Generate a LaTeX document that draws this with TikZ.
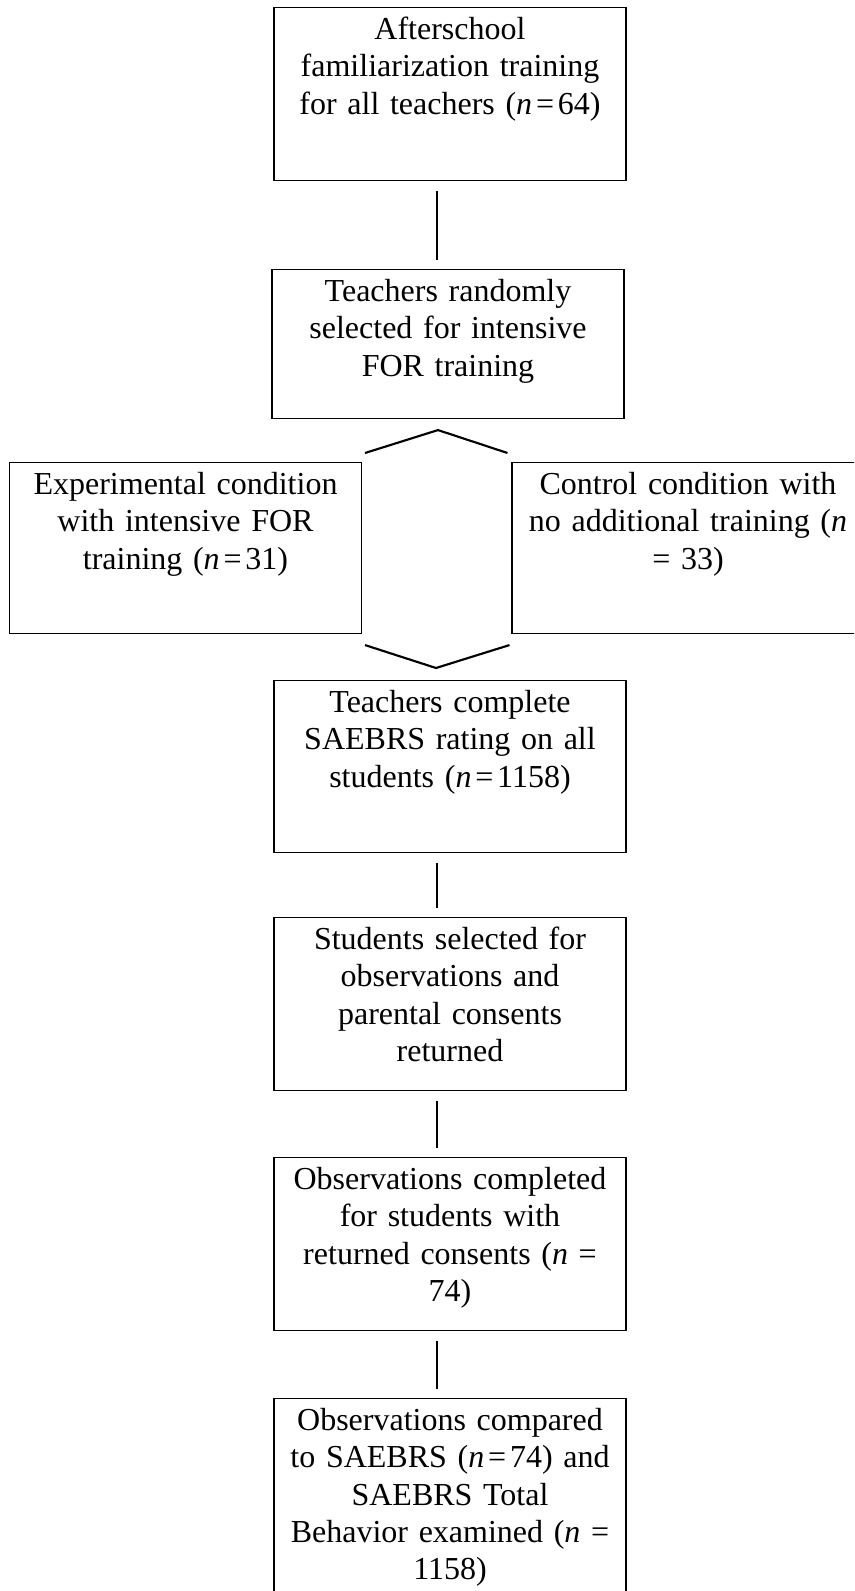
\documentclass[tikz,border=0pt]{standalone}
\usepackage{fontspec}
\setmainfont{Liberation Serif}
\usetikzlibrary{positioning}
\newcommand{\eqsep}{\hspace{0.12em}=\hspace{0.12em}}

\begin{document}
\begin{tikzpicture}[x=0.75pt, y=-0.75pt,
  box/.style={draw, rectangle, line width=0.8pt, minimum width=264pt, anchor=north, inner sep=0pt},
  txt/.style={align=center, text width=255pt, inner sep=0pt, font=\fontsize{24}{28}\selectfont},
  link/.style={line width=1.6pt, shorten <=7.5pt, shorten >=7pt},
  chev/.style={line width=1.6pt}
]
\useasboundingbox (0,0) rectangle (854,1591);
\clip (0,0) rectangle (854,1591);
\coordinate (spine) at (437,0);

\node[box, minimum height=129.75pt] (famil) at (450,7) {};
\node[txt, below=4.5pt of famil.north] (famil-t) {\strut Afterschool\\ familiarization training\\ for all teachers (\textit{n}\eqsep 64)};
\node[box, minimum height=111.75pt] (randsel) at (448,269) {};
\node[txt, below=4.5pt of randsel.north] (randsel-t) {\strut Teachers randomly\\ selected for intensive\\ FOR training};
\node[box, minimum height=128.25pt] (expcond) at (185.5,462) {};
\node[txt, below=4.5pt of expcond.north] (expcond-t) {\strut Experimental condition\\ with intensive FOR\\ training (\textit{n}\eqsep 31)};
\node[box, minimum height=128.25pt] (ctrlcond) at (688,462) {};
\node[txt, below=4.5pt of ctrlcond.north] (ctrlcond-t) {\strut Control condition with\\ no additional training (\textit{n}\\ = 33)};
\node[box, minimum height=129pt] (rating) at (450,680) {};
\node[txt, below=4.5pt of rating.north] (rating-t) {\strut Teachers complete\\ SAEBRS rating on all\\ students (\textit{n}\eqsep 1158)};
\node[box, minimum height=129.75pt] (select) at (450,917) {};
\node[txt, below=4.5pt of select.north] (select-t) {\strut Students selected for\\ observations and\\ parental consents\\ returned};
\node[box, minimum height=129.75pt] (observ) at (450,1157) {};
\node[txt, below=4.5pt of observ.north] (observ-t) {\strut Observations completed\\ for students with\\ returned consents (\textit{n} =\\ 74)};
\node[box, minimum height=195pt] (compare) at (450,1398) {};
\node[txt, below=4.5pt of compare.north] (compare-t) {\strut Observations compared\\ to SAEBRS (\textit{n}\eqsep 74) and\\ SAEBRS Total\\ Behavior examined (\textit{n} =\\ 1158)};

\path (randsel.south -| spine) ++(1,11) coordinate (split);
\path (rating.north -| spine) ++(-1,-12) coordinate (join);

\draw[link] (famil.south -| spine) -- (randsel.north -| spine);
\draw[chev] ([shift={(3,-9)}]expcond.north east) -- (split) -- ([shift={(-4,-9)}]ctrlcond.north west);
\draw[chev] ([shift={(3,11)}]expcond.south east) -- (join) -- ([shift={(-2,11)}]ctrlcond.south west);
\draw[link] (rating.south -| spine) -- (select.north -| spine);
\draw[link] (select.south -| spine) -- (observ.north -| spine);
\draw[link] (observ.south -| spine) -- (compare.north -| spine);
\end{tikzpicture}
\end{document}
